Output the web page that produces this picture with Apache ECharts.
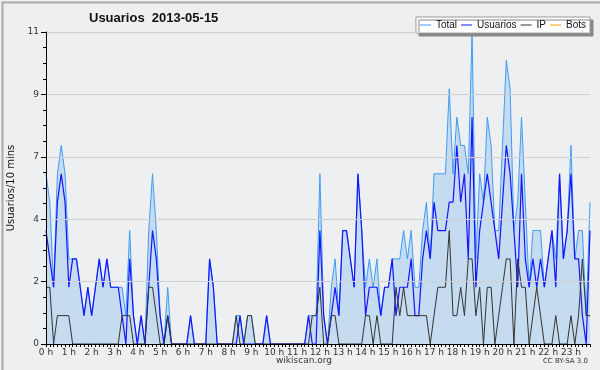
<!DOCTYPE html>
<html><head><meta charset="utf-8">
<script src="https://cdn.jsdelivr.net/npm/echarts@6/dist/echarts.min.js"></script>
<style>html,body{margin:0;padding:0;background:#eeeff1}#c{width:600px;height:370px}</style>
</head><body><div id="c"></div>
<script>
const hourLabels = ['0 h','1 h','2 h','3 h','4 h','5 h','6 h','7 h','8 h','9 h','10 h','11 h','12 h','13 h','14 h','15 h','16 h','17 h','18 h','19 h','20 h','21 h','22 h','23 h'];
const slotsPerHour = 6;

const total = [6,5,2,6,7,6,3,3,3,2, 1,2,1,2,3,2,3,2,2,2, 2,1,4,1,0,1,0,4,6,4, 1,0,2,0,0,0,0,0,1,0,
  0,0,0,3,2,0,0,0,0,0, 1,1,0,1,1,0,0,0,1,0, 0,0,0,0,0,0,0,0,0,1, 1,1,6,1,0,2,3,1,4,4,
  3,2,6,4,2,3,2,3,1,2, 2,3,3,3,4,3,4,2,2,4, 5,3,6,6,6,6,9,6,8,7, 7,6,11,3,6,5,8,7,4,4,
  7,10,9,4,5,8,5,2,4,4, 4,2,3,4,3,6,3,4,7,3, 4,4,1,5];
const usuarios = [4,3,2,5,6,5,2,3,3,2, 1,2,1,2,3,2,3,2,2,2, 1,0,3,1,0,1,0,2,4,3, 1,0,1,0,0,0,0,0,1,0,
  0,0,0,3,2,0,0,0,0,0, 0,1,0,0,0,0,0,0,1,0, 0,0,0,0,0,0,0,0,0,1, 0,0,4,1,0,1,2,1,4,4,
  3,2,6,4,1,2,2,2,1,2, 2,3,1,2,2,2,3,1,1,3, 4,3,5,4,4,4,5,5,7,5, 6,3,8,2,4,5,6,5,4,3,
  5,7,6,4,2,6,3,2,3,2, 3,2,3,4,2,6,3,4,6,3, 3,1,0,4];
const ip = [2,2,0,1,1,1,1,0,0,0, 0,0,0,0,0,0,0,0,0,0, 1,1,1,0,0,0,0,2,2,1, 0,0,1,0,0,0,0,0,0,0,
  0,0,0,0,0,0,0,0,0,0, 1,0,0,1,1,0,0,0,0,0, 0,0,0,0,0,0,0,0,0,0, 1,1,2,0,0,1,1,0,0,0,
  0,0,0,0,1,1,0,1,0,0, 0,0,2,1,2,1,1,1,1,1, 1,0,1,2,2,2,4,1,1,2, 1,3,3,1,2,0,2,2,0,1,
  2,3,3,0,3,2,2,0,1,2, 1,0,0,0,1,0,0,0,1,0, 1,3,1,1];
const bots = [0,0,0,0,0,0,0,0,0,0, 0,0,0,0,0,0,0,0,0,0, 0,0,0,0,0,0,0,0,0,0, 0,0,0,0,0,0,0,0,0,0,
  0,0,0,0,0,0,0,0,0,0, 0,0,0,0,0,0,0,0,0,0, 0,0,0,0,0,0,0,0,0,0, 0,0,0,0,0,0,0,0,0,0,
  0,0,0,0,0,0,0,0,0,0, 0,0,0,0,0,0,0,0,0,0, 0,0,0,0,0,0,0,0,0,0, 0,0,0,0,0,0,0,0,0,0,
  0,0,0,0,0,0,0,0,0,0, 0,0,0,0,0,0,0,0,0,0, 0,0,0,0];

const categories = [];
hourLabels.forEach(h => { for (let k = 0; k < slotsPerHour; k++) categories.push(k === 0 ? h : h + ':' + k + '0'); });

const chart = echarts.init(document.getElementById('c'), null, {renderer: 'canvas'});
const font = 'DejaVu Sans';
chart.setOption({
  backgroundColor: '#eeeff1',
  animation: false,
  title: {text: 'Usuarios  2013-05-15', left: 84, top: 7,
    textStyle: {fontFamily: 'Liberation Sans', fontSize: 13, fontWeight: 'bold', color: '#111'}},
  legend: {
    right: 10, top: 17, itemGap: 4, itemWidth: 11, itemHeight: 1, icon: 'rect',
    padding: [3, 4, 3, 4],
    backgroundColor: '#ffffff', borderColor: '#999', borderWidth: 1,
    shadowColor: '#888', shadowOffsetX: 3, shadowOffsetY: 3, shadowBlur: 0,
    textStyle: {fontFamily: 'Liberation Sans', fontSize: 10, color: '#111'},
    data: ['Total', 'Usuarios', 'IP', 'Bots']
  },
  grid: {left: 46, right: 10, top: 32, bottom: 26, outerBoundsMode: 'none', containLabel: false},
  xAxis: {
    type: 'category', data: categories, boundaryGap: false, z: 10,
    axisLine: {lineStyle: {color: '#000', width: 1}},
    axisTick: {show: true, interval: 0, length: 3, lineStyle: {color: '#000'}},
    axisLabel: {interval: slotsPerHour - 1, margin: 4, fontFamily: font, fontSize: 9, color: '#333',
      formatter: v => v.indexOf(':') >= 0 ? '' : v},
    splitLine: {show: false}
  },
  yAxis: {
    type: 'value', min: 0, max: 11, interval: 2.2, z: 10,
    name: 'Usuarios/10 mins', nameLocation: 'middle', nameGap: 30, nameRotate: 90,
    nameTextStyle: {fontFamily: font, fontSize: 10, color: '#111'},
    axisLine: {show: true, lineStyle: {color: '#000', width: 1}},
    axisTick: {show: true, length: 5, lineStyle: {color: '#000'}},
    minorTick: {show: true, splitNumber: 4, length: 3, lineStyle: {color: '#000'}},
    axisLabel: {margin: 7, fontFamily: font, fontSize: 9, color: '#333',
      formatter: v => String(Math.round(v))},
    splitLine: {show: true, lineStyle: {color: '#cfd0d3', width: 1}}
  },
  series: [
    {name: 'Total', type: 'line', data: total, showSymbol: false, color: '#3d9cf5',
      lineStyle: {width: 1, color: '#3d9cf5'}, areaStyle: {color: '#c5dbef', opacity: 1}},
    {name: 'Usuarios', type: 'line', data: usuarios, showSymbol: false, color: '#1414ff',
      lineStyle: {width: 1.2, color: '#1414ff'}},
    {name: 'IP', type: 'line', data: ip, showSymbol: false, color: '#333333',
      lineStyle: {width: 1, color: '#333333'}},
    {name: 'Bots', type: 'line', data: bots, showSymbol: false, color: '#ffa500', z: 1,
      lineStyle: {width: 1, color: '#ffa500'}}
  ],
  graphic: [
    {type: 'rect', left: 0, top: 0, shape: {width: 599, height: 369}, silent: true,
      style: {fill: 'none', stroke: '#aaaaaa', lineWidth: 2}},
    {type: 'text', left: 276, top: 356, silent: true,
      style: {text: 'wikiscan.org', fontFamily: font, fontSize: 9, fill: '#333'}},
    {type: 'text', right: 12, top: 358, silent: true,
      style: {text: 'CC BY-SA 3.0', fontFamily: font, fontSize: 7, fill: '#333'}}
  ]
});
</script></body></html>
